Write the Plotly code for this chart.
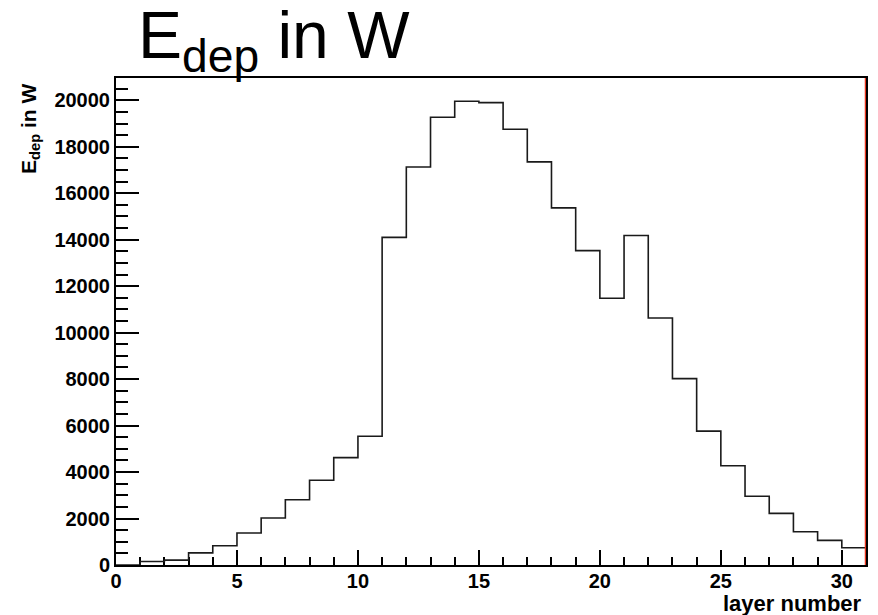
import plotly.graph_objects as go

# ---- data ----
bin_edges = list(range(0, 32))  # layer bins 0..31
edep = [0, 150, 210, 520, 830, 1380, 2020, 2810, 3650, 4620, 5540,
        14100, 17130, 19270, 19960, 19900, 18750, 17350, 15370, 13530,
        11480, 14180, 10630, 8020, 5760, 4270, 2960, 2220, 1430, 1060, 745]
x_ticks = [0, 5, 10, 15, 20, 25, 30]
y_ticks = list(range(0, 20001, 2000))
y_max = max(edep) * 1.05

# step outline of the histogram
hx = [bin_edges[0]] + bin_edges[:-1] + [bin_edges[-1], bin_edges[-1]]
hy = [0] + edep + [edep[-1], 0]

FONT = "Liberation Sans, Arial, Helvetica, sans-serif"

fig = go.Figure()
fig.add_trace(go.Scatter(
    x=hx, y=hy, mode="lines",
    line=dict(color="#1a1a1a", width=1.6, shape="hv"),
    hoverinfo="skip", showlegend=False, cliponaxis=False,
))
# red vertical marker line on the right edge of the frame
fig.add_trace(go.Scatter(
    x=[bin_edges[-1], bin_edges[-1]], y=[0, y_max], mode="lines",
    line=dict(color="#e8341c", width=2.5),
    hoverinfo="skip", showlegend=False, cliponaxis=False,
))

axis_common = dict(
    showgrid=False, zeroline=False, ticks="inside", tickcolor="black",
    tickwidth=1.5, showline=True, linecolor="black", linewidth=2, mirror=True,
    layer="below traces",
    tickfont=dict(family=FONT, size=20, color="black", weight="bold"),
)

fig.update_layout(
    width=878, height=615,
    margin=dict(l=116, r=10, t=78, b=50),
    plot_bgcolor="white", paper_bgcolor="white",
    title=dict(
        text="E<sub>dep</sub> in W",
        font=dict(family=FONT, size=66, color="black"),
        x=138 / 878, xanchor="left", xref="container",
        y=1.0, yanchor="top", yref="container",
        pad=dict(t=12),
    ),
    xaxis=dict(
        range=[bin_edges[0], bin_edges[-1]],
        tickvals=x_ticks, ticklen=15, ticklabelstandoff=-3,
        minor=dict(dtick=1, tick0=0, ticklen=8, tickwidth=1.5,
                   tickcolor="black", ticks="inside", showgrid=False),
        **axis_common,
    ),
    yaxis=dict(
        range=[0, y_max],
        tickvals=y_ticks, tickformat="d", ticklen=23,
        minor=dict(dtick=500, tick0=0, ticklen=12, tickwidth=1.5,
                   tickcolor="black", ticks="inside", showgrid=False),
        **axis_common,
    ),
    annotations=[
        dict(text="<b>E<sub>dep</sub> in W</b>", textangle=-90,
             xref="paper", yref="paper", x=0, y=1,
             xanchor="center", yanchor="top", xshift=-86, yshift=-4,
             showarrow=False, font=dict(family=FONT, size=21, color="black")),
        dict(text="<b>layer number</b>",
             xref="paper", yref="paper", x=1, y=0,
             xanchor="right", yanchor="middle", xshift=-2, yshift=-38,
             showarrow=False, font=dict(family=FONT, size=22, color="black")),
    ],
)

fig.write_html("out.html")
